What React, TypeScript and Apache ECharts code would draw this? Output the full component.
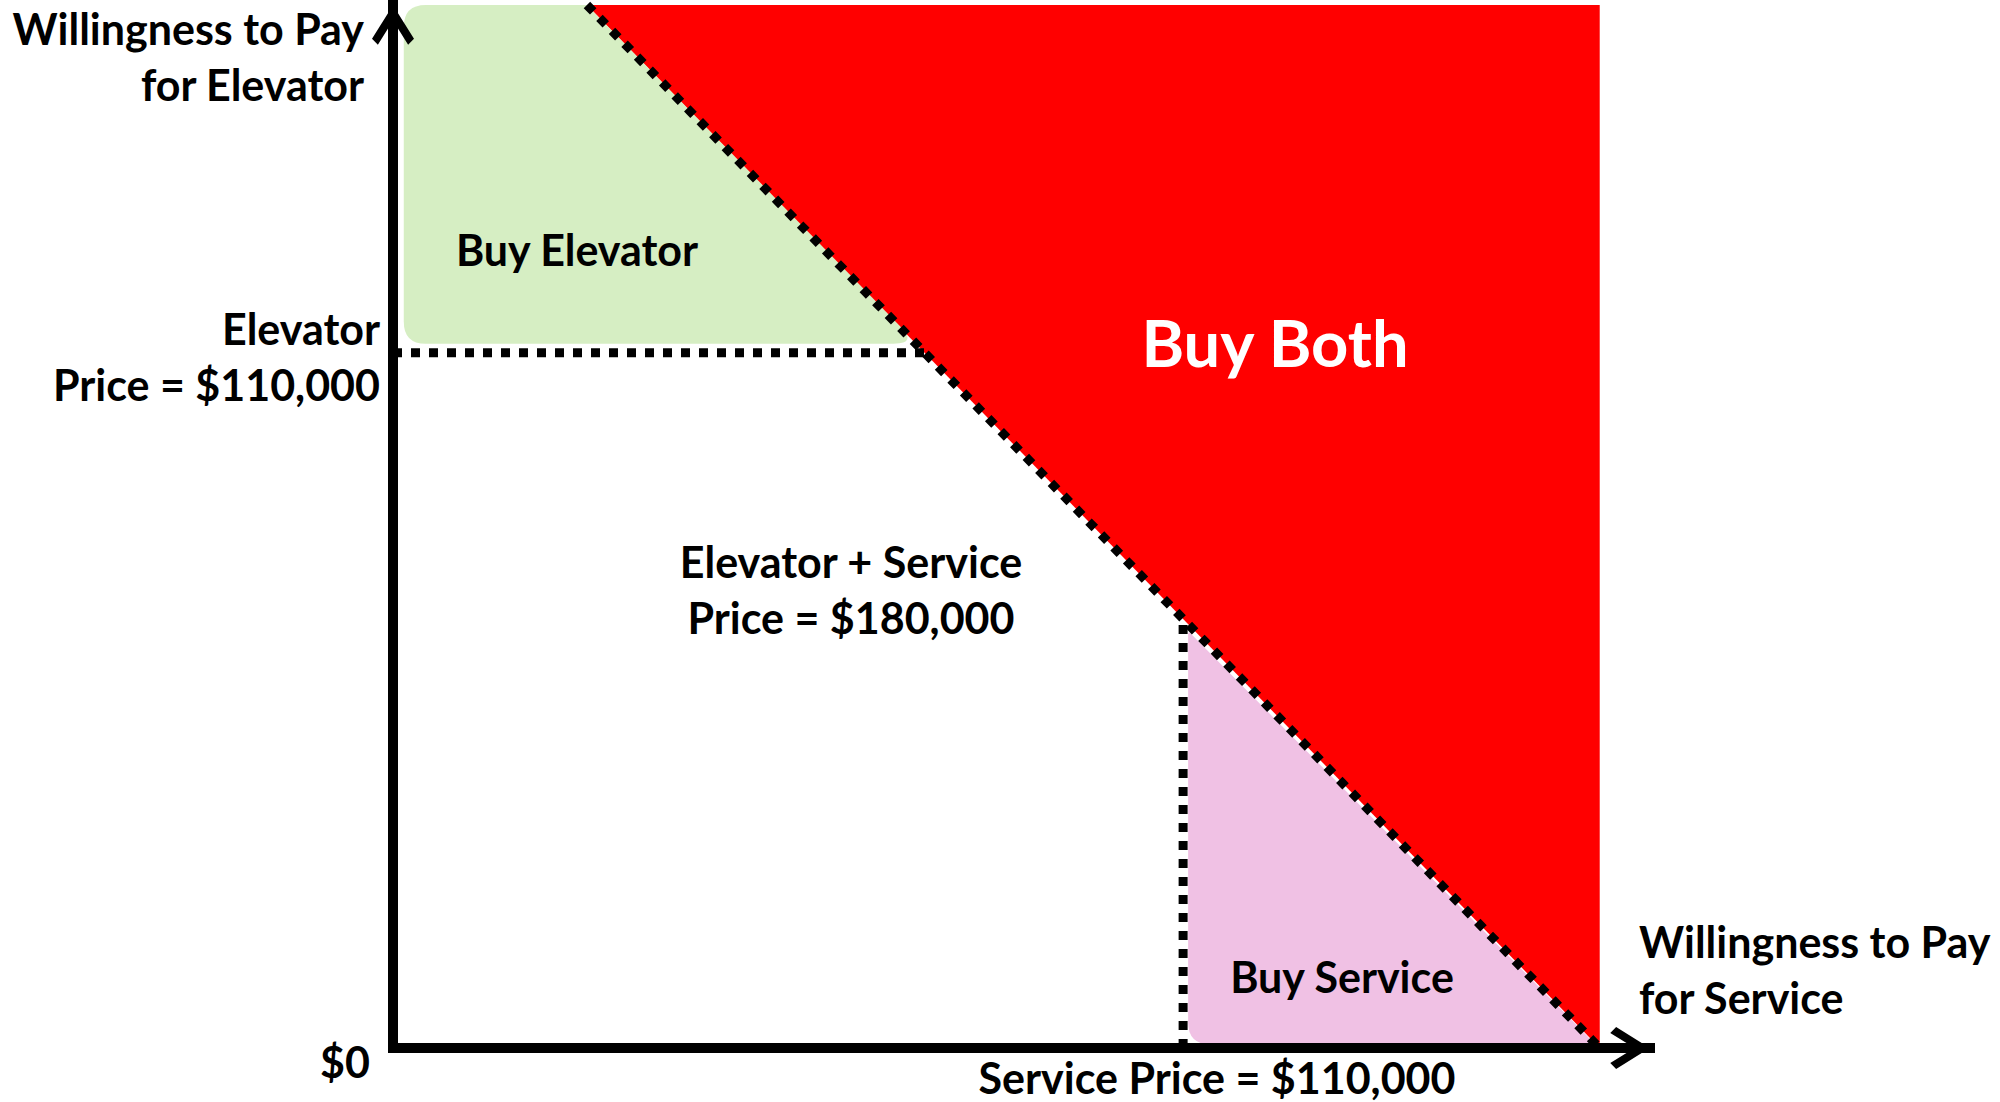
import React, { useEffect, useRef } from 'react';
import * as echarts from 'echarts';

// Schematic value space, in $ thousands of willingness to pay
const X_MAX = 175; // willingness to pay for service (x)
const Y_MAX = 165; // willingness to pay for elevator (y)
const servicePrice = 110;
const elevatorPrice = 110;

// Regions
const bundleLine = [[27, 165], [168, 0]];
const buyBothRegion = [[27, 165], [168, 165], [168, 0]];
const buyElevatorRegion = [[1.5, 165], [27, 165], [73, 111.4], [1.5, 111.4]];
const buyServiceRegion = [[110.7, 66], [167.4, 0.6], [110.7, 0.6]];
const elevatorPriceLine = [[0, elevatorPrice], [74, elevatorPrice]];
const servicePriceLine = [[servicePrice, 0], [servicePrice, 67]];

const FONT = 'Lato';
const SIZE = 43;

function roundedPath(pts: number[][], radii: number[]): string {
  const n = pts.length;
  let d = '';
  for (let i = 0; i < n; i++) {
    const p = pts[i];
    const prev = pts[(i - 1 + n) % n];
    const next = pts[(i + 1) % n];
    const l1 = Math.hypot(prev[0] - p[0], prev[1] - p[1]);
    const l2 = Math.hypot(next[0] - p[0], next[1] - p[1]);
    const r = Math.min(radii[i] || 0, l1 / 2, l2 / 2);
    const a = [p[0] + ((prev[0] - p[0]) / l1) * r, p[1] + ((prev[1] - p[1]) / l1) * r];
    const b = [p[0] + ((next[0] - p[0]) / l2) * r, p[1] + ((next[1] - p[1]) / l2) * r];
    d += (i === 0 ? 'M' : 'L') + a[0] + ' ' + a[1] + ' Q' + p[0] + ' ' + p[1] + ' ' + b[0] + ' ' + b[1] + ' ';
  }
  return d + 'Z';
}

function regionSeries(region: number[][], fill: string, radii: number[], z: number) {
  return {
    type: 'custom',
    coordinateSystem: 'cartesian2d',
    data: [[0, 0]],
    z,
    silent: true,
    clip: false,
    renderItem: (_params: any, api: any) => {
      const pts = region.map((p) => api.coord(p));
      return {
        type: 'path',
        shape: { pathData: roundedPath(pts, radii) },
        style: { fill, stroke: null },
      };
    },
  };
}

function dottedLine(data: number[][]) {
  return {
    type: 'line',
    data,
    z: 5,
    clip: false,
    silent: true,
    symbol: 'none',
    lineStyle: { color: '#000', width: 9, type: [9, 9], cap: 'butt' },
  };
}

const ARROW = 'path://M50 0 L100 80 L86 94 L50 36 L14 94 L0 80 Z';

function txt(text: string, x: number, y: number, align: string, size: number, color = '#000', lineHeight?: number) {
  return {
    type: 'text',
    x,
    y,
    z: 100,
    style: {
      text,
      fill: color,
      fontFamily: FONT,
      fontWeight: 'bold',
      fontSize: size,
      lineHeight: lineHeight || size,
      textAlign: align,
      textVerticalAlign: 'middle',
    },
  };
}

export default function App() {
  const ref = useRef<HTMLDivElement>(null);
  useEffect(() => {
    if (!ref.current) return;
    const chart = echarts.init(ref.current, null, { renderer: 'svg' });
    const axisCommon = {
      type: 'value',
      z: 10,
      axisTick: { show: false },
      axisLabel: { show: false },
      splitLine: { show: false },
      axisLine: {
        show: true,
        onZero: false,
        lineStyle: { color: '#000', width: 10, cap: 'square' },
        symbol: ['none', ARROW],
        symbolSize: [42, 40],
        symbolOffset: [0, -20],
      },
    };
    chart.setOption({
      animation: false,
      backgroundColor: '#fff',
      grid: { left: 393, right: 350, top: 5, bottom: 54, containLabel: false },
      xAxis: { ...axisCommon, min: 0, max: X_MAX },
      yAxis: { ...axisCommon, min: 0, max: Y_MAX },
      series: [
        regionSeries(buyBothRegion, '#ff0000', [0, 0, 0], 1),
        regionSeries(buyElevatorRegion, '#d6eec3', [22, 0, 24, 22], 1),
        regionSeries(buyServiceRegion, '#f0c1e4', [4, 12, 22], 1),
        dottedLine(elevatorPriceLine),
        dottedLine(servicePriceLine),
        dottedLine(bundleLine),
      ],
      graphic: [
        txt('Willingness to Pay\nfor Elevator', 364, 56, 'right', SIZE, '#000', 56),
        txt('Elevator\nPrice = $110,000', 380, 356, 'right', SIZE, '#000', 56),
        txt('$0', 370, 1061, 'right', SIZE),
        txt('Buy Elevator', 577, 249, 'center', SIZE),
        txt('Buy Both', 1275, 342, 'center', 65, '#fff'),
        txt('Elevator + Service\nPrice = $180,000', 851, 589, 'center', SIZE, '#000', 56),
        txt('Buy Service', 1342, 976, 'center', SIZE),
        txt('Willingness to Pay\nfor Service', 1639, 969, 'left', SIZE, '#000', 56),
        txt('Service Price = $110,000', 1217, 1077, 'center', SIZE),
      ],
    });
    return () => chart.dispose();
  }, []);
  return <div ref={ref} style={{ position: 'fixed', left: 0, top: 0, width: 2000, height: 1102, background: '#fff' }} />;
}
